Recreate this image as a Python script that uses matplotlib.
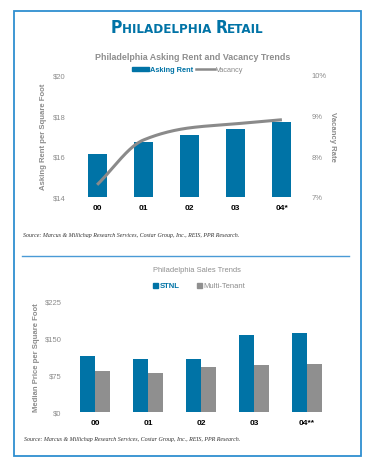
import matplotlib
matplotlib.use('Agg')
import matplotlib.pyplot as plt
from matplotlib import font_manager
from matplotlib.patches import Rectangle
from matplotlib.lines import Line2D
from matplotlib.offsetbox import TextArea, HPacker, AnchoredOffsetbox
import numpy as np

# ── Data ───────────────────────────────────────────────────────────────────
years_top = ['00', '01', '02', '03', '04*']
asking_rent = [16.1, 16.7, 17.05, 17.35, 17.7]
vacancy = [7.3, 8.4, 8.7, 8.8, 8.9]

years_bot = ['00', '01', '02', '03', '04**']
stnl = [113, 107, 107, 156, 160]
multi_tenant = [83, 79, 91, 95, 97]

rent_ticks = [14, 16, 18, 20]
vac_ticks = [7, 8, 9, 10]
price_ticks = [0, 75, 150, 225]

# ── Colors ─────────────────────────────────────────────────────────────────
BLUE = '#0073a6'
GRAY_BAR = '#8f8f8f'
GRAY_LINE = '#8a8a8a'
GRAY_TXT = '#8c8c8c'
FRAME = '#2f8fd0'
SOURCE = 'Source: Marcus & Millichap Research Services, Costar Group, Inc., REIS, PPR Research.'

plt.rcParams['font.family'] = ['Liberation Sans', 'DejaVu Sans']


def pick_condensed():
    """Look for a condensed bold face for the title; fall back to plain sans."""
    try:
        font_manager.findfont(font_manager.FontProperties(family='Liberation Sans Narrow',
                                                          weight='bold'),
                              fallback_to_default=False)
        return dict(family='Liberation Sans Narrow'), True
    except Exception:
        pass
    path = font_manager.findfont(font_manager.FontProperties(family='DejaVu Sans',
                                                             weight='bold', stretch='condensed'))
    if 'Condensed' in path:
        return dict(family='DejaVu Sans', stretch='condensed'), True
    return dict(family='Liberation Sans'), False


def pchip(x, y, n=200):
    """Monotone cubic through the points, used only to draw the curve smoothly."""
    x = np.asarray(x, float)
    y = np.asarray(y, float)
    h = np.diff(x)
    d = np.diff(y) / h
    m = np.zeros_like(y)
    for k in range(1, len(y) - 1):
        if d[k - 1] * d[k] > 0:
            w1 = 2 * h[k] + h[k - 1]
            w2 = h[k] + 2 * h[k - 1]
            m[k] = (w1 + w2) / (w1 / d[k - 1] + w2 / d[k])
    m[0] = d[0]
    m[-1] = d[-1]
    xs = np.linspace(x[0], x[-1], n)
    ys = np.empty_like(xs)
    for i, xv in enumerate(xs):
        k = min(np.searchsorted(x, xv, side='right') - 1, len(x) - 2)
        t = (xv - x[k]) / h[k]
        h00 = 2 * t**3 - 3 * t**2 + 1
        h10 = t**3 - 2 * t**2 + t
        h01 = -2 * t**3 + 3 * t**2
        h11 = t**3 - t**2
        ys[i] = h00 * y[k] + h10 * h[k] * m[k] + h01 * y[k + 1] + h11 * h[k] * m[k + 1]
    return xs, ys


W, H = 369, 460
fig = plt.figure(figsize=(W / 100, H / 100), dpi=100)


def fx(px):
    return px / W


def fy(py):
    return 1 - py / H


# frame and divider
fig.add_artist(Rectangle((fx(14), fy(457)), fx(361) - fx(14), fy(12) - fy(457),
                         transform=fig.transFigure, fill=False, edgecolor=FRAME, linewidth=1.3))
fig.add_artist(Line2D([fx(22), fx(349)], [fy(257), fy(257)], transform=fig.transFigure,
                      color='#4a9ad6', linewidth=1.0))

# title in small caps
font_kw, condensed = pick_condensed()
big, small = (12.5, 9.5) if condensed else (11, 8.5)
tprops = dict(color=BLUE, fontweight='bold', **font_kw)
parts = [TextArea('P', textprops=dict(fontsize=big, **tprops)),
         TextArea('HILADELPHIA ', textprops=dict(fontsize=small, **tprops)),
         TextArea('R', textprops=dict(fontsize=big, **tprops)),
         TextArea('ETAIL', textprops=dict(fontsize=small, **tprops))]
title_box = HPacker(children=parts, align='baseline', pad=0, sep=0)
ab = AnchoredOffsetbox(loc='center', child=title_box, frameon=False,
                       bbox_to_anchor=(fx(187), fy(28)), bbox_transform=fig.transFigure,
                       borderpad=0, pad=0)
fig.add_artist(ab)

# ── Top chart ──────────────────────────────────────────────────────────────
ax1 = fig.add_axes([fx(74), fy(198), fx(305) - fx(74), fy(76) - fy(198)])
x = np.arange(len(years_top))
ax1.bar(x, asking_rent, 0.41, color=BLUE, zorder=2)
ax1.set_ylim(14, 20)
ax1.set_xlim(-0.5, 4.5)
ax1.set_yticks(rent_ticks)
ax1.set_yticklabels([f'${v}' for v in rent_ticks])
ax1.set_xticks(x)
ax1.set_xticklabels(years_top, fontweight='bold')
ax1.set_ylabel('Asking Rent per Square Foot', fontsize=5.6, color=GRAY_TXT,
               fontweight='bold', labelpad=4)

ax2 = ax1.twinx()
xs, ys = pchip(x, vacancy)
ax2.plot(xs, ys, color=GRAY_LINE, linewidth=2.2, solid_capstyle='butt', zorder=3)
ax2.set_ylim(7, 10)
ax2.set_yticks(vac_ticks)
ax2.set_yticklabels([f'{v}%' for v in vac_ticks])
ax2.set_ylabel('Vacancy Rate', fontsize=5.6, color=GRAY_TXT, fontweight='bold',
               rotation=-90, labelpad=7)

for a in (ax1, ax2):
    for s in a.spines.values():
        s.set_visible(False)
    a.tick_params(length=0, labelsize=5.5, labelcolor=GRAY_TXT)
ax1.tick_params(axis='y', pad=6)
ax2.tick_params(axis='y', pad=4.5)
ax1.tick_params(axis='x', labelsize=6, labelcolor='black', pad=5)

fig.text(fx(193), fy(57), 'Philadelphia Asking Rent and Vacancy Trends', ha='center',
         va='center', fontsize=6.4, color='#8e8e8e', fontweight='bold')

# legend top
fig.add_artist(Rectangle((fx(132), fy(72)), fx(17), fy(68) - fy(72),
                         transform=fig.transFigure, color=BLUE))
fig.text(fx(150), fy(70), 'Asking Rent', ha='left', va='center', fontsize=5.3,
         color=BLUE, fontweight='bold')
fig.add_artist(Line2D([fx(196), fx(215)], [fy(70), fy(70)], transform=fig.transFigure,
                      color=GRAY_LINE, linewidth=1.8))
fig.text(fx(216), fy(70), 'Vacancy', ha='left', va='center', fontsize=5.3, color=GRAY_TXT)

fig.text(fx(23), fy(235), SOURCE, ha='left', va='center', fontsize=4.3,
         family='Liberation Serif', style='italic', color='#333333')

# ── Bottom chart ───────────────────────────────────────────────────────────
ax3 = fig.add_axes([fx(68.5), fy(413), fx(333.5) - fx(68.5), fy(302) - fy(413)])
xb = np.arange(len(years_bot))
bw = 0.29
ax3.bar(xb - bw / 2, stnl, bw, color=BLUE, zorder=2)
ax3.bar(xb + bw / 2, multi_tenant, bw, color=GRAY_BAR, zorder=2)
ax3.set_ylim(0, 225)
ax3.set_xlim(-0.5, 4.5)
ax3.set_yticks(price_ticks)
ax3.set_yticklabels([f'${v}' for v in price_ticks])
ax3.set_xticks(xb)
ax3.set_xticklabels(years_bot, fontweight='bold')
for s in ax3.spines.values():
    s.set_visible(False)
ax3.tick_params(length=0, labelsize=5.5, labelcolor=GRAY_TXT)
ax3.tick_params(axis='y', pad=5)
ax3.tick_params(axis='x', labelsize=6, labelcolor='black', pad=5)
ax3.set_ylabel('Median Price per Square Foot', fontsize=5.6, color=GRAY_TXT,
               fontweight='bold', labelpad=3)

fig.text(fx(197), fy(270), 'Philadelphia Sales Trends', ha='center', va='center',
         fontsize=5.4, color='#8e8e8e')

# legend bottom
fig.add_artist(Rectangle((fx(153), fy(289)), fx(5), fy(284) - fy(289),
                         transform=fig.transFigure, color=BLUE))
fig.text(fx(160), fy(286.5), 'STNL', ha='left', va='center', fontsize=5.6,
         color=BLUE, fontweight='bold')
fig.add_artist(Rectangle((fx(197), fy(289)), fx(5), fy(284) - fy(289),
                         transform=fig.transFigure, color=GRAY_BAR))
fig.text(fx(203), fy(286.5), 'Multi-Tenant', ha='left', va='center', fontsize=5.5,
         color=GRAY_TXT)

fig.text(fx(24), fy(440), SOURCE, ha='left', va='center', fontsize=4.3,
         family='Liberation Serif', style='italic', color='#333333')

fig.savefig('out.png', dpi=100)
